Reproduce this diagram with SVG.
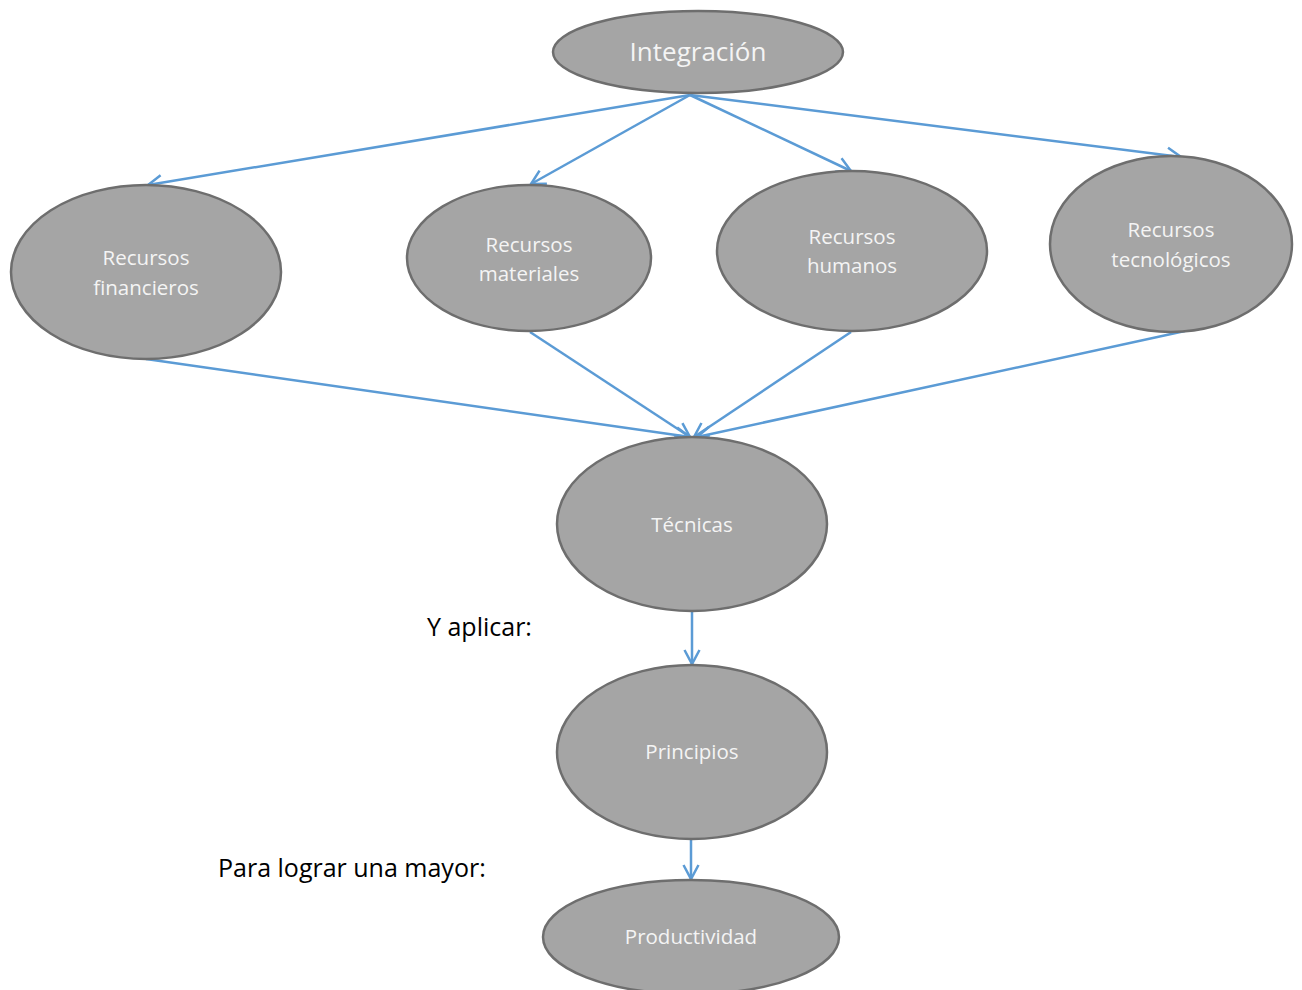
<svg xmlns="http://www.w3.org/2000/svg" width="1302" height="990" viewBox="0 0 1302 990">
  <style>
    .node ellipse { fill: #a5a5a5; stroke: #6e6e6e; stroke-width: 2.5; }
    .node text { fill: #f4f4f4; font-family: "Open Sans", Lato, sans-serif; font-size: 20.5px; text-anchor: middle; }
    .edge { stroke: #5b9bd5; stroke-width: 2.5; fill: none; marker-end: url(#arrow); }
    .note { fill: #000; font-family: "Open Sans", Lato, sans-serif; font-size: 25px; }
  </style>
  <defs>
    <marker id="arrow" markerWidth="22" markerHeight="22" refX="16" refY="9" orient="auto" markerUnits="userSpaceOnUse">
      <polyline points="2,1.5 16,9 2,16.5" fill="none" stroke="#5b9bd5" stroke-width="2.5"/>
    </marker>
  </defs>

  <rect width="1302" height="990" fill="#ffffff"/>

  <g id="connectors">
    <line class="edge" x1="690" y1="95" x2="148" y2="185"/>
    <line class="edge" x1="690" y1="95" x2="531" y2="184"/>
    <line class="edge" x1="690" y1="95" x2="851" y2="171"/>
    <line class="edge" x1="690" y1="95" x2="1181" y2="157"/>
    <line class="edge" x1="146" y1="359" x2="690" y2="437"/>
    <line class="edge" x1="530" y1="332" x2="690" y2="437"/>
    <line class="edge" x1="851" y1="332" x2="694" y2="437"/>
    <line class="edge" x1="1185" y1="331" x2="697" y2="437"/>
    <line class="edge" x1="692" y1="612" x2="692" y2="664"/>
    <line class="edge" x1="691" y1="840" x2="691" y2="879"/>
  </g>

  <g id="integracion" class="node">
    <ellipse cx="698" cy="52" rx="145" ry="41"/>
    <text x="698" y="61" style="font-size:26px">Integración</text>
  </g>
  <g id="recursos-financieros" class="node">
    <ellipse cx="146" cy="272" rx="135" ry="87"/>
    <text x="146" y="265">Recursos</text>
    <text x="146" y="295">financieros</text>
  </g>
  <g id="recursos-materiales" class="node">
    <ellipse cx="529" cy="258" rx="122" ry="73"/>
    <text x="529" y="252">Recursos</text>
    <text x="529" y="281">materiales</text>
  </g>
  <g id="recursos-humanos" class="node">
    <ellipse cx="852" cy="251" rx="135" ry="80"/>
    <text x="852" y="244">Recursos</text>
    <text x="852" y="273">humanos</text>
  </g>
  <g id="recursos-tecnologicos" class="node">
    <ellipse cx="1171" cy="244" rx="121" ry="88"/>
    <text x="1171" y="237">Recursos</text>
    <text x="1171" y="267">tecnológicos</text>
  </g>
  <g id="tecnicas" class="node">
    <ellipse cx="692" cy="524" rx="135" ry="87"/>
    <text x="692" y="532">Técnicas</text>
  </g>
  <g id="principios" class="node">
    <ellipse cx="692" cy="752" rx="135" ry="87"/>
    <text x="692" y="759">Principios</text>
  </g>
  <g id="productividad" class="node">
    <ellipse cx="691" cy="937" rx="148" ry="57"/>
    <text x="691" y="944">Productividad</text>
  </g>

  <text class="note" x="427" y="636">Y aplicar:</text>
  <text class="note" x="218" y="877">Para lograr una mayor:</text>
</svg>
